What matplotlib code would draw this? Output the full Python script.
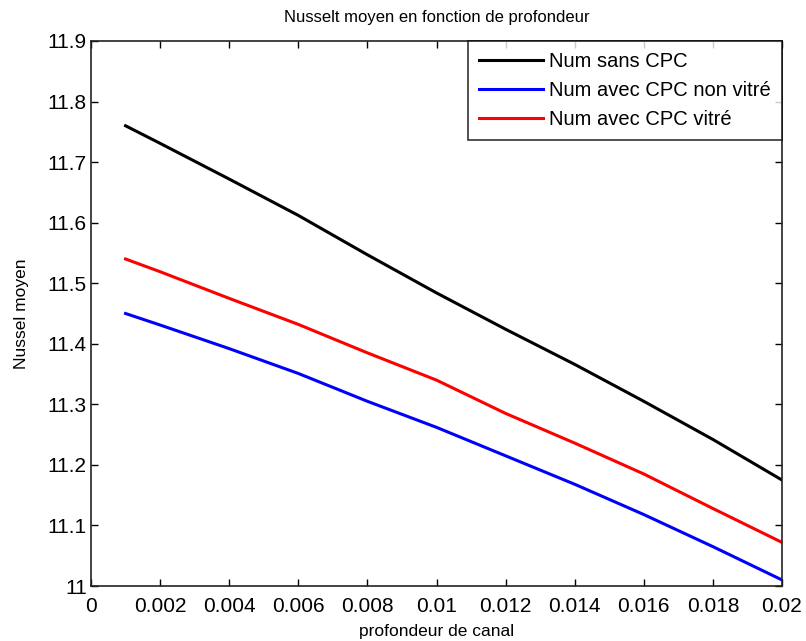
import numpy as np
import matplotlib
matplotlib.use("Agg")
import matplotlib.pyplot as plt

# profondeur de canal (m)
profondeur = [0.001, 0.002, 0.004, 0.006, 0.008, 0.010, 0.012, 0.014, 0.016, 0.018, 0.020]

# Nusselt moyen
nu_sans_cpc = [11.760, 11.731, 11.672, 11.612, 11.547, 11.484, 11.424, 11.366, 11.305, 11.242, 11.175]
nu_cpc_non_vitre = [11.450, 11.431, 11.392, 11.351, 11.305, 11.262, 11.215, 11.168, 11.118, 11.065, 11.010]
nu_cpc_vitre = [11.540, 11.519, 11.475, 11.432, 11.385, 11.340, 11.285, 11.236, 11.185, 11.128, 11.072]

labels = ["Num sans CPC", "Num avec CPC non vitré", "Num avec CPC vitré"]
xticks = [0, 0.002, 0.004, 0.006, 0.008, 0.01, 0.012, 0.014, 0.016, 0.018, 0.02]
xticklabels = ["0", "0.002", "0.004", "0.006", "0.008", "0.01", "0.012", "0.014", "0.016", "0.018", "0.02"]
yticks = [11, 11.1, 11.2, 11.3, 11.4, 11.5, 11.6, 11.7, 11.8, 11.9]
yticklabels = ["11", "11.1", "11.2", "11.3", "11.4", "11.5", "11.6", "11.7", "11.8", "11.9"]

plt.rcParams['font.family'] = ['Liberation Sans', 'DejaVu Sans']

fig = plt.figure(figsize=(8.06, 6.41), dpi=100)
ax = fig.add_axes([91/806, 1 - 586/641, (782 - 91)/806, (586 - 41)/641])

ax.plot(profondeur, nu_sans_cpc, color="black", lw=2.2, label=labels[0])
ax.plot(profondeur, nu_cpc_non_vitre, color="blue", lw=2.2, label=labels[1])
ax.plot(profondeur, nu_cpc_vitre, color="red", lw=2.2, label=labels[2])

ax.set_xlim(0, 0.02)
ax.set_ylim(11, 11.9)
ax.set_xticks(xticks)
ax.set_xticklabels(xticklabels)
ax.set_yticks(yticks)
ax.set_yticklabels(yticklabels)
ax.tick_params(direction="in", length=5, width=1, top=True, right=True, labelsize=15)
ax.tick_params(axis="x", pad=8)
ax.tick_params(axis="y", pad=3)
for s in ax.spines.values():
    s.set_linewidth(1.2)
    s.set_color("#222222")

ax.set_title("Nusselt moyen en fonction de profondeur", fontsize=12, pad=14)
ax.set_xlabel("profondeur de canal", fontsize=12.5, labelpad=6)
ax.set_ylabel("Nussel moyen", fontsize=12.5)
ax.yaxis.set_label_coords(-0.09, 0.5)

leg = ax.legend(loc="upper right", fontsize=14.5, frameon=True, fancybox=False,
                borderaxespad=0, handlelength=3.2, handletextpad=0.3,
                labelspacing=0.5, borderpad=0.55)
leg.get_frame().set_edgecolor("black")
leg.get_frame().set_linewidth(1.2)

fig.savefig("out.png", dpi=100)
